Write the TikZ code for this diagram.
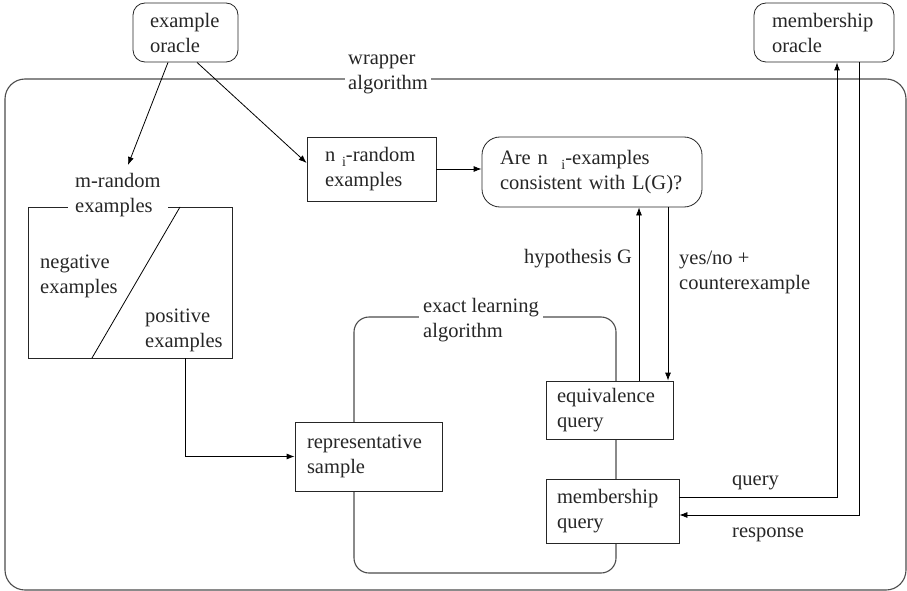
\documentclass[tikz,border=0pt]{standalone}
\usepackage{fontspec}
\setmainfont{Liberation Serif}
\usetikzlibrary{arrows.meta,calc}
\newcommand{\subi}{\raisebox{-5pt}{\fontsize{14}{14}\selectfont i}}
\begin{document}
\begin{tikzpicture}[x=1pt,y=-1pt,
  every node/.style={font=\fontsize{20.5}{25}\selectfont, text=black!85},
  frame/.style={draw=black!70, line width=1.1pt},
  box/.style={draw=black!85, line width=0.8pt, fill=white, align=left, inner ysep=0pt},
  lbl/.style={align=left, inner sep=0pt, anchor=base west},
  cover/.style={align=left, fill=white, inner ysep=1pt, anchor=base west},
  arr/.style={draw=black, line width=0.8pt, -{Latex[length=8pt,width=6pt]}},
  ln/.style={draw=black, line width=0.8pt}]
\useasboundingbox (0,0) rectangle (907,591);

% wrapper frame
\draw[frame, rounded corners=20] (5,79) rectangle (906,590);
\node[cover, inner xsep=3pt] (wlab) at (345,90) {wrapper\\algorithm};

% exact learning algorithm frame
\draw[frame, rounded corners=15] (354,317) rectangle (616,573);
\node[cover, inner xsep=4pt] (xlab) at (419,337) {exact learning\\algorithm};

% oracles
\node[box, rounded corners=12, minimum width=105, minimum height=59, inner xsep=17, text width=71] (eo) at (185.5,32.5) {example\\oracle};
\node[box, rounded corners=12, minimum width=140, minimum height=59, inner xsep=18, text width=104] (mo) at (824,32.5) {membership\\oracle};

% n_i random examples
\node[box, minimum width=129, minimum height=64, inner xsep=18, text width=93] (nb) at (371.5,169) {n \subi-random\\examples};
\node[box, rounded corners=18, minimum width=220, minimum height=70, inner xsep=18, text width=184] (are) at (592,172) {Are n\ \ \subi-examples\\consistent with L(G)?};

% m-random examples box
\node[draw=black!85, line width=0.8pt, minimum width=204, minimum height=151, inner sep=0pt] (mb) at (130,282.5) {};
\draw[ln] (180,207) -- (92,358);
\node[cover, inner xsep=7pt, inner ysep=0pt] (mlab) at (68,212) {m-random\\examples};
\node[lbl] (neg) at (40,293) {negative\\examples};
\node[lbl] (pos) at (145,347) {positive\\examples};

% representative sample, queries
\node[box, minimum width=147, minimum height=69, inner xsep=12, text width=123] (rep) at (368.5,456.5) {representative\\sample};
\node[box, minimum width=127, minimum height=58, inner xsep=11, text width=105] (eq) at (609.5,410) {equivalence\\query};
\node[box, minimum width=133, minimum height=64, inner xsep=11, text width=111] (mq) at (612.5,511) {membership\\query};

% labels
\node[lbl, anchor=base east] (hyp) at (632,263) {hypothesis G};
\node[lbl] (yn) at (679,289) {yes/no +\\counterexample};
\node[lbl] (ql) at (732,485) {query};
\node[lbl] (rl) at (732,537) {response};

% connectors
\coordinate (mr) at (128,165);
\draw[arr] ([xshift=-17.5]eo.south) -- (mr);
\draw[arr] ([xshift=11.5]eo.south) -- ([yshift=6]nb.west);
\draw[arr] (nb.east) -- (nb.east -| are.west);
\draw[arr] ([xshift=55]mb.south) |- (rep.west);
\coordinate (h1) at ([xshift=29.5]eq.north);
\draw[arr] (h1) -- (h1 |- are.south);
\coordinate (y1) at ([xshift=58.5]eq.north);
\draw[arr] (y1 |- are.south) -- (y1);
\draw[arr] ([yshift=14]mq.east) -| ([xshift=13]mo.south);
\draw[arr] ([xshift=35]mo.south) |- ([yshift=-4]mq.east);
\end{tikzpicture}
\end{document}
